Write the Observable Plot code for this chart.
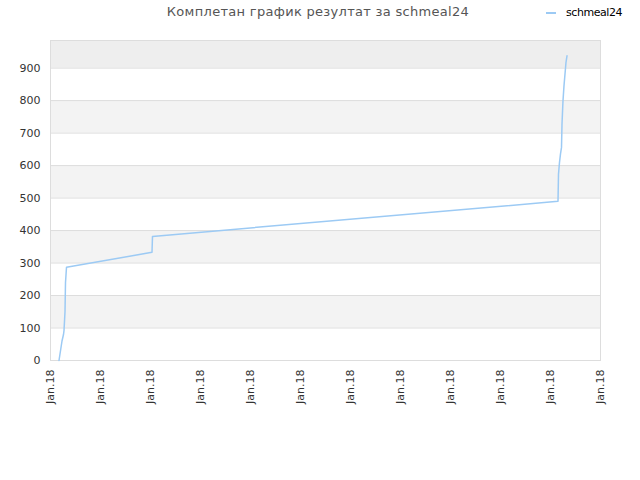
<!DOCTYPE html>
<html>
<head>
<meta charset="utf-8">
<script src="https://cdn.jsdelivr.net/npm/d3@7"></script>
<script src="https://cdn.jsdelivr.net/npm/@observablehq/plot@0.6"></script>
<style>
  body { margin: 0; background: #fff; font-family: "DejaVu Sans", sans-serif; }
  #wrap { position: relative; width: 640px; height: 480px; }
  #title { position: absolute; top: 4px; left: 0; width: 636px; text-align: center; font-size: 13px; color: #555; letter-spacing: 0.3px; }
  #legend { position: absolute; top: 6px; left: 546px; font-size: 11px; color: #000; display: flex; align-items: center; letter-spacing: -0.45px; }
  #legend span.sw { display: inline-block; width: 10px; height: 2px; background: #9ccaf4; margin-right: 10px; }
</style>
</head>
<body>
<div id="wrap">
  <div id="title">Комплетан график резултат за schmeal24</div>
  <div id="legend"><span class="sw"></span>schmeal24</div>
  <div id="chart"></div>
</div>
<script>
const seriesName = "schmeal24";
const xTickLabels = ["Jan.18","Jan.18","Jan.18","Jan.18","Jan.18","Jan.18","Jan.18","Jan.18","Jan.18","Jan.18","Jan.18","Jan.18"];
const yTicks = [0,100,200,300,400,500,600,700,800,900];
const xs = [0.17,0.20,0.23,0.26,0.27,0.29,0.30,0.32,2.03,2.04,10.15,10.16,10.18,10.20,10.22,10.23,10.25,10.27,10.29,10.31,10.33];
const ys = [0,30,60,80,92,150,240,287,333,382,490,574,610,636,656,728,800,846,882,918,938];
const bandLo = [100,300,500,700,900];
const bandHi = [200,400,600,800,985];

const data = xs.map((x, i) => ({x, y: ys[i]}));
const bands = bandLo.map((lo, i) => ({lo, hi: bandHi[i]}));
const xTicks = xTickLabels.map((_, i) => i);

const chart = Plot.plot({
  width: 640,
  height: 480,
  marginTop: 40,
  marginLeft: 50,
  marginRight: 40,
  marginBottom: 120,
  style: {fontFamily: "DejaVu Sans, sans-serif", fontSize: "11px", color: "#333", background: "#fff"},
  x: {domain: [0, 11], ticks: xTicks, tickFormat: i => xTickLabels[i], tickRotate: -90, tickSize: 0, tickPadding: 9, label: null},
  y: {domain: [0, 985], ticks: yTicks, tickSize: 0, tickPadding: 10, label: null},
  marks: [
    Plot.rect(bands, {x1: 0, x2: 11, y1: "lo", y2: "hi", fill: (d) => d.lo === 900 ? "#eeeeee" : "#f3f3f3"}),
    Plot.ruleY(yTicks, {stroke: "#dddddd"}),
    Plot.frame({stroke: "#dddddd"}),
    Plot.line(data, {x: "x", y: "y", stroke: "#9ccaf4", strokeWidth: 1.5})
  ]
});
document.getElementById("chart").appendChild(chart);
</script>
</body>
</html>
